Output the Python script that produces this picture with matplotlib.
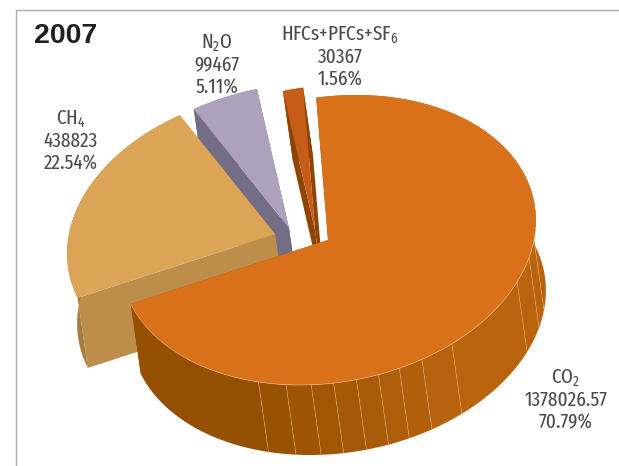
#!/usr/bin/env python3
import matplotlib
matplotlib.use('Agg')
import matplotlib.pyplot as plt
import numpy as np
from matplotlib.colors import to_rgb

LABELS = ['CO$_2$', 'CH$_4$', 'N$_2$O', 'HFCs+PFCs+SF$_6$']
VALUES = [1378026.57, 438823, 99467, 30367]
VALUE_TEXT = ['1378026.57', '438823', '99467', '30367']
PCT_TEXT = ['70.79%', '22.54%', '5.11%', '1.56%']

TOP_COLORS = ['#D8711A', '#DCA457', '#ADA1BD', '#C55C17']
CUT_COLORS = ['#954F00', '#BD8D4A', '#736D85', '#8E4504']
RIM_COLORS = ['#954F00', '#A67C3F', '#736D85', '#8E4504']

# apex of each slice in pixels, the slices are pulled apart by hand
APEX = [(328, 240), (275, 234), (289, 228), (315, 230)]
LABEL_POS = [(566, 376), (71, 117), (217, 41), (340, 33)]

# ellipse axes and extrusion in pixels
U = np.array([206.0, 0.0])
V = np.array([28.0, -145.0])
DEPTH = np.array([10.0, 70.0])
START_ANGLE = 101.0

# seams on the CO2 rim (degrees on the ellipse)
SEAMS = [-101.8, -93.9, -86.9, -80.7, -74.4, -68.2, -62.2, -55.4, -45.7, -16.8, -7.0, 0.0]
RIM_LEFT = '#954F00'
RIM_RIGHT = '#BA6410'

FONT = 'Fira Sans Extra Condensed'
plt.rcParams['font.family'] = [FONT, 'DejaVu Sans']
plt.rcParams['mathtext.fontset'] = 'custom'
plt.rcParams['mathtext.rm'] = FONT
plt.rcParams['mathtext.default'] = 'regular'


def arc_points(center, a0, a1, n=80):
    t = np.radians(np.linspace(a0, a1, n))
    return np.asarray(center) + np.outer(np.cos(t), U) + np.outer(np.sin(t), V)


def mix(c0, c1, f):
    return tuple((1 - f) * a + f * b for a, b in zip(to_rgb(c0), to_rgb(c1)))


def draw_cut_face(ax, apex, angle, color, zorder):
    edge = arc_points(apex, angle, angle, 1)[0]
    apex = np.asarray(apex)
    pts = [apex, edge, edge + DEPTH, apex + DEPTH]
    ax.fill(*zip(*pts), color=color, lw=0, zorder=zorder)


def draw_rim(ax, apex, a0, a1, color, zorder):
    top = arc_points(apex, a0, a1)
    pts = np.vstack([top, top[::-1] + DEPTH])
    ax.fill(pts[:, 0], pts[:, 1], color=color, lw=0, zorder=zorder)


def draw_top(ax, apex, a0, a1, color, zorder):
    pts = np.vstack([[apex], arc_points(apex, a0, a1, 200)])
    ax.fill(pts[:, 0], pts[:, 1], color=color, lw=0, zorder=zorder)


fig = plt.figure(figsize=(6.19, 4.66), dpi=100)
ax = fig.add_axes([0, 0, 1, 1])
ax.set_xlim(0, 619)
ax.set_ylim(466, 0)
ax.axis('off')

# frame
ax.plot([15.5, 15.5, 619], [466, 9.5, 9.5], color='#ABABAB', lw=1.0, zorder=1)

sweeps = 360.0 * np.array(VALUES) / np.sum(VALUES)
ends = START_ANGLE - np.cumsum(sweeps)
starts = np.concatenate([[START_ANGLE], ends[:-1]])

# back to front
for i, z in zip([2, 3, 1, 0], [10, 20, 30, 40]):
    a0, a1 = starts[i], ends[i]
    apex = APEX[i]
    draw_cut_face(ax, apex, a0, CUT_COLORS[i], z)
    draw_cut_face(ax, apex, a1, CUT_COLORS[i], z)
    if i != 0:
        draw_rim(ax, apex, a0, a1, RIM_COLORS[i], z + 1)
    else:
        edges = [a1] + SEAMS + [a0]
        for k in range(len(edges) - 1):
            f = min(k / (len(SEAMS) - 3), 1.0)
            draw_rim(ax, apex, edges[k], edges[k + 1], mix(RIM_LEFT, RIM_RIGHT, f), z + 1)
        for s in SEAMS:
            p = arc_points(apex, s, s, 1)[0]
            ax.plot([p[0], p[0] + DEPTH[0]], [p[1], p[1] + DEPTH[1]],
                    color='#E0A868', lw=0.5, alpha=0.7, zorder=z + 2)
    draw_top(ax, apex, a0, a1, TOP_COLORS[i], z + 3)

rim = arc_points(APEX[0], a1, 5, 200)
ax.plot(rim[:, 0], rim[:, 1], color='#EDB98A', lw=0.5, alpha=0.8, zorder=44)

ax.text(34, 36, '2007', family=['Liberation Sans', 'DejaVu Sans'], fontweight='bold',
        fontsize=20.5, color='#231F20', ha='left', va='center', zorder=50)

for label, val, pct, (x, y) in zip(LABELS, VALUE_TEXT, PCT_TEXT, LABEL_POS):
    for j, s in enumerate([label, val, pct]):
        ax.text(x, y + 22 * j, s, fontsize=15, fontweight='normal', color='#4A4A4D',
                ha='center', va='center_baseline', zorder=50)

plt.savefig('out.png', dpi=100)
plt.close()
